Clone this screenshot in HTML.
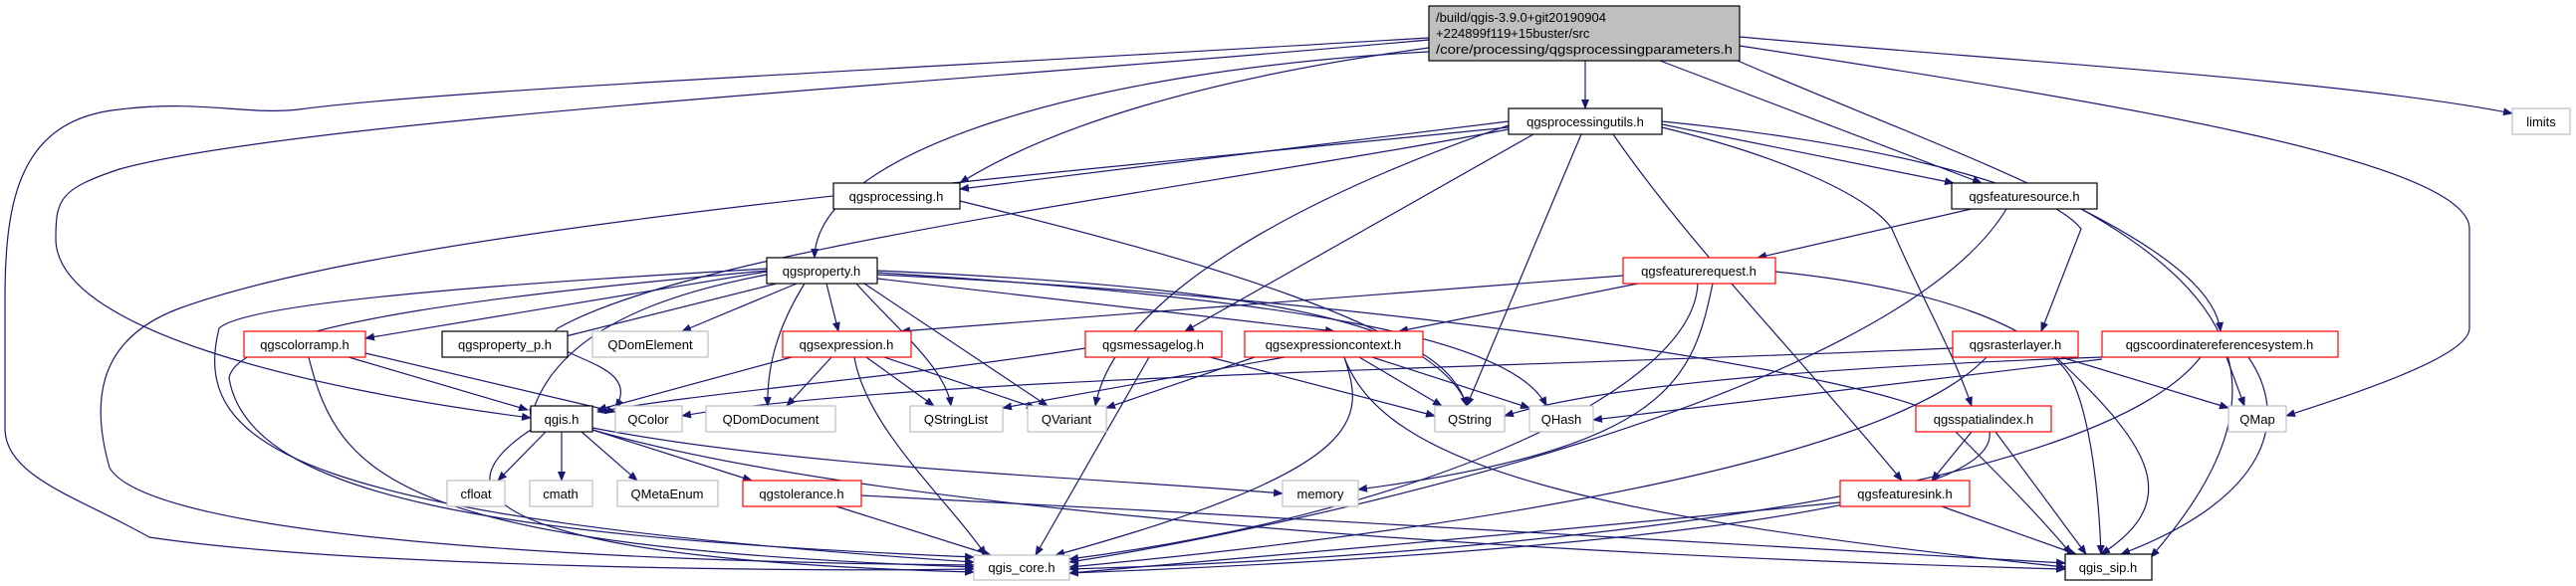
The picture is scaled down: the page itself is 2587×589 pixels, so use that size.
<!DOCTYPE html>
<html><head><meta charset="utf-8"><style>
html,body{margin:0;padding:0;background:#fff;}
svg{display:block;}
text{font-family:"Liberation Sans",sans-serif;font-size:13px;fill:#000;}
.e{fill:none;stroke:#191970;stroke-width:1.2;marker-end:url(#a);}
.n{fill:#fff;stroke:#000;stroke-width:1.2;}
.g{fill:#fff;stroke:#bfbfbf;stroke-width:1.2;}
.r{fill:#fff;stroke:#ff0000;stroke-width:1.2;}
</style></head><body>
<svg width="2587" height="589" viewBox="0 0 2587 589" xmlns="http://www.w3.org/2000/svg">
<defs><marker id="a" markerWidth="10" markerHeight="8" refX="9" refY="4" orient="auto" markerUnits="userSpaceOnUse"><path d="M0,0 L10,4 L0,8 z" fill="#191970"/></marker></defs>

<!-- edges from root -->
<path class="e" d="M1592 61 L1592 109"/>
<path class="e" d="M1435 48 C1200 80 1050 130 964 184"/>
<path class="e" d="M1435 52 C1100 70 820 150 818 259"/>
<path class="e" d="M1435 40 C1000 80 300 120 120 170 C60 190 56 200 56 240 C56 330 300 390 533 420"/>
<path class="e" d="M1435 38 C900 70 450 90 300 110 C250 116 200 100 120 110 C20 120 5 200 5 300 L5 430 C5 480 80 500 150 540 C350 570 800 575 978 572"/>
<path class="e" d="M1667 61 L1990 184"/>
<path class="e" d="M1745 61 C1950 150 2220 240 2230 333"/>
<path class="e" d="M1747 46 C2100 100 2480 160 2480 230 L2480 330 C2480 360 2350 400 2296 418"/>
<path class="e" d="M1747 37 C2000 60 2350 80 2523 114"/>

<!-- qgsprocessingutils -->
<path class="e" d="M1515 122 L964 190"/>
<path class="e" d="M1669 125 L1962 184"/>
<path class="e" d="M1515 128 C1000 180 400 230 180 310 C100 340 90 400 110 470 C150 540 600 565 978 568"/>
<path class="e" d="M1515 126 C1300 200 1120 300 1100 408"/>
<path class="e" d="M1588 135 L1473 408"/>
<path class="e" d="M1540 135 L1190 333"/>
<path class="e" d="M1620 135 C1700 250 1800 350 1910 483"/>
<path class="e" d="M1669 128 C1800 160 1880 200 1900 230 C1930 300 1960 350 1980 408"/>
<path class="e" d="M1669 122 C1850 140 2050 180 2090 230 L2050 333"/>
<path class="e" d="M1515 130 C1200 190 700 250 560 330 C530 360 650 360 618 410"/>

<!-- qgsprocessing -->
<path class="e" d="M964 202 C1200 260 1450 330 1473 408"/>

<!-- qgsfeaturesource -->
<path class="e" d="M1980 210 L1765 259"/>
<path class="e" d="M2015 210 C1900 400 1300 530 1074 565"/>
<path class="e" d="M2090 210 C2250 300 2300 400 2160 560"/>

<!-- qgsfeaturerequest -->
<path class="e" d="M1630 277 L905 333"/>
<path class="e" d="M1645 285 L1405 333"/>
<path class="e" d="M1720 285 C1700 380 1680 450 1364 492"/>
<path class="e" d="M1705 285 C1700 400 1400 520 1074 562"/>
<path class="e" d="M1783 273 C1950 290 2050 330 2080 380 C2100 420 2108 500 2110 557"/>

<!-- qgsproperty -->
<path class="e" d="M770 273 L367 340"/>
<path class="e" d="M780 285 L560 340"/>
<path class="e" d="M800 285 L685 333"/>
<path class="e" d="M830 285 L842 333"/>
<path class="e" d="M881 280 L1340 333"/>
<path class="e" d="M808 285 C780 330 770 370 771 408"/>
<path class="e" d="M860 285 C900 330 950 370 955 408"/>
<path class="e" d="M868 285 L1052 408"/>
<path class="e" d="M881 272 C1300 290 1450 330 1473 408"/>
<path class="e" d="M881 274 C1300 300 1520 340 1553 408"/>
<path class="e" d="M881 276 C1400 300 1900 380 1950 420 C2000 470 2050 520 2080 557"/>
<path class="e" d="M770 276 C700 290 560 320 533 420"/>
<path class="e" d="M770 270 C600 280 250 300 220 330 C190 450 300 520 978 565"/>
<path class="e" d="M770 272 C580 290 240 320 230 380 C250 500 500 540 978 560"/>

<!-- qgscolorramp -->
<path class="e" d="M350 359 L530 412"/>
<path class="e" d="M367 355 L618 414"/>
<path class="e" d="M310 359 C340 480 400 550 978 570"/>

<!-- qgsexpression -->
<path class="e" d="M795 359 L600 412"/>
<path class="e" d="M835 359 L790 408"/>
<path class="e" d="M870 359 L938 408"/>
<path class="e" d="M888 359 L1040 410"/>
<path class="e" d="M858 359 C870 430 950 500 990 558"/>

<!-- qgsmessagelog -->
<path class="e" d="M1090 350 C900 380 700 395 600 414"/>
<path class="e" d="M1215 359 L1441 418"/>
<path class="e" d="M1154 359 L1040 558"/>

<!-- qgsexpressioncontext -->
<path class="e" d="M1260 359 L1111 410"/>
<path class="e" d="M1365 359 L1448 408"/>
<path class="e" d="M1378 359 L1536 410"/>
<path class="e" d="M1350 359 C1370 420 1380 470 1060 558"/>
<path class="e" d="M1350 359 C1390 470 1600 520 2074 570"/>
<path class="e" d="M1290 359 L1007 410"/>

<!-- qgsrasterlayer -->
<path class="e" d="M1961 350 C1500 370 900 380 685 418"/>
<path class="e" d="M2070 359 L2238 410"/>
<path class="e" d="M2065 359 C2150 440 2200 500 2110 557"/>
<path class="e" d="M1995 359 C1900 460 1500 530 1074 570"/>

<!-- qgscrs -->
<path class="e" d="M2111 359 C1800 370 1600 390 1511 418"/>
<path class="e" d="M2111 361 L1600 422"/>
<path class="e" d="M2236 359 L2254 408"/>
<path class="e" d="M2258 359 C2300 420 2280 500 2130 557"/>
<path class="e" d="M2210 359 C2100 500 1500 560 1074 572"/>

<!-- qgis.h -->
<path class="e" d="M548 434 L500 483"/>
<path class="e" d="M564 434 L564 483"/>
<path class="e" d="M584 434 L640 483"/>
<path class="e" d="M595 432 L755 483"/>
<path class="e" d="M595 430 C800 470 1100 480 1288 496"/>
<path class="e" d="M595 432 C900 520 1600 560 2074 572"/>
<path class="e" d="M533 432 C400 520 600 565 978 575"/>

<!-- qgstolerance -->
<path class="e" d="M840 509 L995 558"/>
<path class="e" d="M865 498 C1300 520 1800 550 2074 566"/>

<!-- qgsspatialindex -->
<path class="e" d="M1980 434 L1940 483"/>
<path class="e" d="M2004 434 L2095 557"/>
<path class="e" d="M1998 434 C2010 520 1500 560 1074 576"/>

<!-- qgsfeaturesink -->
<path class="e" d="M1848 505 C1500 540 1200 565 1074 576"/>
<path class="e" d="M1950 509 L2085 557"/>

<!-- nodes -->
<rect x="1435" y="6" width="312" height="55" fill="#bfbfbf" stroke="#000" stroke-width="1.2"/>
<text x="1442" y="22">/build/qgis-3.9.0+git20190904</text>
<text x="1442" y="38">+224899f119+15buster/src</text>
<text x="1442" y="54" textLength="298" lengthAdjust="spacingAndGlyphs">/core/processing/qgsprocessingparameters.h</text>

<g text-anchor="middle">
<rect class="n" x="1515" y="109" width="154" height="26"/><text x="1592" y="127">qgsprocessingutils.h</text>
<rect class="g" x="2523" y="109" width="58" height="26"/><text x="2552" y="127">limits</text>
<rect class="n" x="837" y="184" width="127" height="26"/><text x="900" y="202">qgsprocessing.h</text>
<rect class="n" x="1960" y="184" width="146" height="26"/><text x="2033" y="202">qgsfeaturesource.h</text>
<rect class="n" x="770" y="259" width="111" height="26"/><text x="825" y="277">qgsproperty.h</text>
<rect class="r" x="1630" y="259" width="153" height="26"/><text x="1706" y="277">qgsfeaturerequest.h</text>

<rect class="r" x="245" y="333" width="122" height="26"/><text x="306" y="351">qgscolorramp.h</text>
<rect class="n" x="444" y="333" width="126" height="26"/><text x="507" y="351">qgsproperty_p.h</text>
<rect class="g" x="595" y="333" width="116" height="26"/><text x="653" y="351">QDomElement</text>
<rect class="r" x="786" y="333" width="129" height="26"/><text x="850" y="351">qgsexpression.h</text>
<rect class="r" x="1090" y="333" width="137" height="26"/><text x="1158" y="351">qgsmessagelog.h</text>
<rect class="r" x="1250" y="333" width="179" height="26"/><text x="1339" y="351">qgsexpressioncontext.h</text>
<rect class="r" x="1961" y="333" width="126" height="26"/><text x="2024" y="351">qgsrasterlayer.h</text>
<rect class="r" x="2111" y="333" width="237" height="26"/><text x="2229" y="351">qgscoordinatereferencesystem.h</text>

<rect class="n" x="533" y="408" width="62" height="26"/><text x="564" y="426">qgis.h</text>
<rect class="g" x="618" y="408" width="67" height="26"/><text x="651" y="426">QColor</text>
<rect class="g" x="709" y="408" width="130" height="26"/><text x="774" y="426">QDomDocument</text>
<rect class="g" x="914" y="408" width="93" height="26"/><text x="960" y="426">QStringList</text>
<rect class="g" x="1032" y="408" width="79" height="26"/><text x="1071" y="426">QVariant</text>
<rect class="g" x="1441" y="408" width="70" height="26"/><text x="1476" y="426">QString</text>
<rect class="g" x="1536" y="408" width="64" height="26"/><text x="1568" y="426">QHash</text>
<rect class="r" x="1924" y="408" width="136" height="26"/><text x="1992" y="426">qgsspatialindex.h</text>
<rect class="g" x="2238" y="408" width="58" height="26"/><text x="2267" y="426">QMap</text>

<rect class="g" x="449" y="483" width="58" height="26"/><text x="478" y="501">cfloat</text>
<rect class="g" x="532" y="483" width="63" height="26"/><text x="563" y="501">cmath</text>
<rect class="g" x="620" y="483" width="101" height="26"/><text x="670" y="501">QMetaEnum</text>
<rect class="r" x="746" y="483" width="119" height="26"/><text x="805" y="501">qgstolerance.h</text>
<rect class="g" x="1288" y="483" width="76" height="26"/><text x="1326" y="501">memory</text>
<rect class="r" x="1848" y="483" width="130" height="26"/><text x="1913" y="501">qgsfeaturesink.h</text>

<rect class="g" x="978" y="558" width="96" height="25"/><text x="1026" y="575">qgis_core.h</text>
<rect class="n" x="2074" y="557" width="87" height="26"/><text x="2117" y="575">qgis_sip.h</text>
</g>
</svg>
</body></html>
